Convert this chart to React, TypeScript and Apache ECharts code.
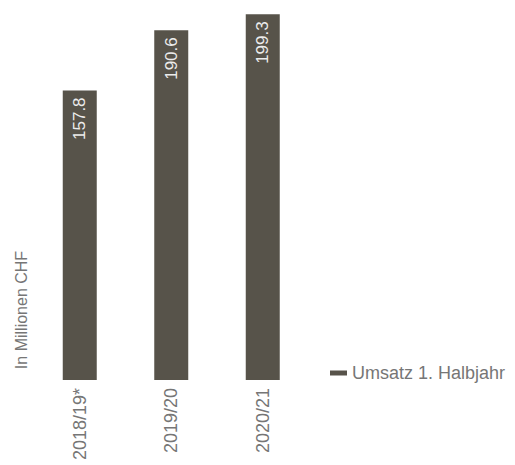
import React, { useEffect, useRef } from "react";
import * as echarts from "echarts";

const categories = ["2018/19*", "2019/20", "2020/21"];
const revenue = [157.8, 190.6, 199.3];
const seriesName = "Umsatz 1. Halbjahr";
const unitLabel = "In Millionen CHF";

const FONT = "'Liberation Sans', Helvetica, Arial, sans-serif";
const BAR = "#57534a";
const TEXT = "#767676";

export default function App() {
  const ref = useRef<HTMLDivElement>(null);
  useEffect(() => {
    document.body.style.margin = "0";
    if (!ref.current) return;
    const chart = echarts.init(ref.current, null, { renderer: "svg" });
    chart.setOption({
      animation: false,
      textStyle: { fontFamily: FONT },
      grid: { left: 34, top: 13, width: 274.5, height: 367, containLabel: false },
      legend: {
        data: [{ name: seriesName, icon: "rect" }],
        left: 330,
        top: 364,
        padding: 0,
        itemWidth: 17,
        itemHeight: 5,
        itemGap: 5,
        textStyle: { fontSize: 18, color: TEXT, fontFamily: FONT, padding: [0, 0, 0, 0] },
      },
      xAxis: {
        type: "category",
        data: categories,
        axisLine: { show: false },
        axisTick: { show: false },
        axisLabel: {
          rotate: 90,
          margin: 8,
          fontSize: 18,
          color: TEXT,
          fontFamily: FONT,
        },
      },
      yAxis: {
        type: "value",
        min: 0,
        max: 200,
        show: false,
        splitLine: { show: false },
      },
      graphic: [
        {
          type: "text",
          x: 21,
          y: 310,
          rotation: Math.PI / 2,
          style: {
            text: unitLabel,
            fontSize: 16,
            fill: TEXT,
            fontFamily: FONT,
            align: "center",
            verticalAlign: "middle",
          },
        },
      ],
      series: [
        {
          name: seriesName,
          type: "bar",
          data: revenue,
          barWidth: 34,
          itemStyle: { color: BAR },
          label: {
            show: true,
            position: "insideTop",
            rotate: 90,
            align: "right",
            verticalAlign: "middle",
            distance: 7,
            fontSize: 17,
            color: "#ececec",
            fontFamily: FONT,
            formatter: (p: any) => p.value.toFixed(1),
          },
        },
      ],
    });
    return () => chart.dispose();
  }, []);
  return <div ref={ref} style={{ width: 515, height: 465 }} />;
}
